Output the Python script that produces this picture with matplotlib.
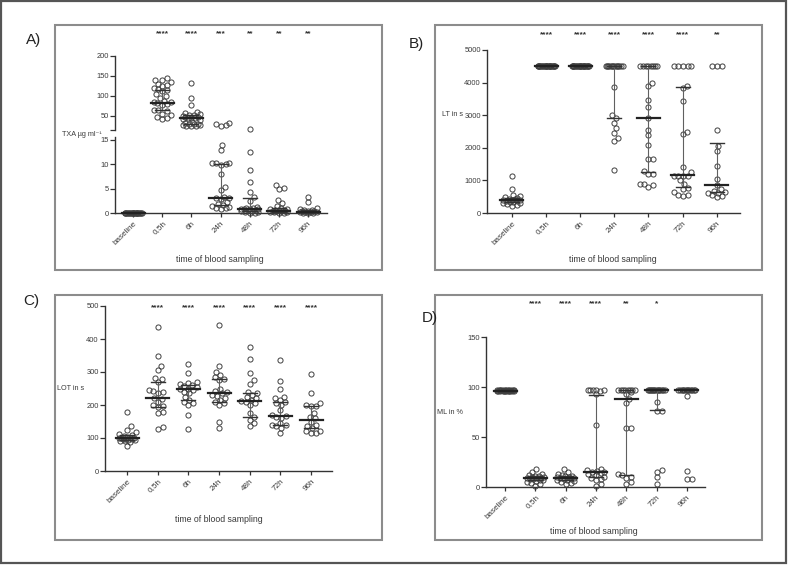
import numpy as np
import matplotlib.pyplot as plt
import matplotlib.transforms as mtransforms
from matplotlib.patches import Rectangle

plt.rcParams['font.family'] = ['Liberation Sans', 'DejaVu Sans']

#categories and significance marks
groups = ['baseline', '0,5h', '6h', '24h', '48h', '72h', '96h']
stars_a = ['', '****', '****', '***', '**', '**', '**']
stars_b = ['', '****', '****', '****', '****', '****', '**']
stars_c = ['', '****', '****', '****', '****', '****', '****']
stars_d = ['', '****', '****', '****', '**', '*', '']

#A) TXA in ug/ml
txa_base = [0] * 22
txa_05 = [145, 141, 139, 136, 131, 128, 125, 120, 118, 115, 112, 104, 100, 96,
          88, 85, 84, 82, 80, 78, 66, 64, 62, 56, 52, 48, 45, 43]
txa_6 = [132, 95, 77, 60, 57, 55, 53, 52, 50, 48, 47, 46, 45, 44, 43, 40, 36,
         33, 31, 30, 29, 28, 27, 26, 25, 24]
txa_24 = [33, 31, 28, 26, 14.0, 13.0, 10.3, 10.2, 10.2, 10.1, 9.8, 8.0, 5.4, 4.8,
          3.3, 3.1, 3.0, 2.8, 2.2, 1.9, 1.6, 1.4, 1.2, 1.1, 1.0, 0.9]
txa_48 = [17, 12.5, 8.8, 6.3, 4.3, 3.2, 2.5, 1.3, 1.1, 1.0, 0.9, 0.9, 0.8, 0.8,
          0.7, 0.6, 0.5, 0.4, 0.3, 0.2, 0.1, 0.0]
txa_72 = [5.8, 5.2, 4.9, 2.6, 2.0, 1.4, 1.0, 0.9, 0.8, 0.7, 0.6, 0.6, 0.5, 0.5,
          0.4, 0.4, 0.3, 0.3, 0.2, 0.1, 0.1]
txa_96 = [3.3, 2.2, 1.0, 0.8, 0.7, 0.6, 0.5, 0.4, 0.4, 0.3, 0.3, 0.2, 0.2, 0.1, 0.1, 0.0]
txa_med = [0, 83, 45, 3.0, 0.9, 0.5, 0.3]
txa_q1 = [0, 64, 31, 1.6, 0.5, 0.3, 0.1]
txa_q3 = [0, 116, 52, 10.0, 3.0, 1.0, 0.6]

#B) LT in s
lt_base = [1120, 750, 560, 520, 480, 450, 430, 420, 410, 400, 390, 380, 370, 350,
           340, 320, 300, 280, 250, 200]
lt_05 = [4500] * 24
lt_6 = [4500] * 24
lt_24 = [4500] * 14 + [3880, 3020, 2900, 2750, 2600, 2450, 2300, 2200, 1320]
lt_48 = [4500] * 8 + [4000, 3900, 3480, 3250, 2900, 2550, 2380, 2100, 1650, 1650,
                      1300, 1200, 1200, 900, 880, 850, 800]
lt_72 = [4500] * 5 + [3900, 3820, 3450, 2500, 2420, 1400, 1250, 1150, 1150, 1150,
                      1150, 1000, 900, 780, 750, 650, 550, 550, 520]
lt_96 = [4500] * 3 + [2550, 2050, 1900, 1450, 1050, 870, 750, 680, 650, 620, 600,
                      560, 530, 480]
lt_med = [400, 4500, 4500, 4500, 2900, 1160, 870]
lt_q1 = [350, 4500, 4500, 2920, 1250, 800, 640]
lt_q3 = [450, 4500, 4500, 4500, 4500, 3860, 2160]

#C) LOT in s
lot_base = [180, 135, 125, 118, 112, 108, 105, 103, 101, 100, 100, 99, 98, 97, 96,
            95, 93, 92, 90, 88, 75]
lot_05 = [435, 350, 318, 305, 283, 280, 270, 245, 243, 240, 235, 222, 218, 210, 200,
          197, 193, 180, 175, 133, 128]
lot_6 = [325, 298, 270, 268, 265, 262, 258, 255, 250, 248, 245, 240, 235, 225, 215,
         210, 205, 200, 170, 128]
lot_24 = [442, 318, 300, 290, 285, 280, 275, 250, 242, 238, 235, 230, 228, 220, 215,
          210, 205, 200, 150, 130]
lot_48 = [375, 340, 298, 275, 265, 240, 235, 230, 225, 220, 215, 213, 210, 205, 200,
          175, 165, 155, 145, 135]
lot_72 = [337, 272, 250, 225, 220, 215, 210, 205, 200, 185, 170, 168, 165, 160, 145,
          140, 138, 135, 130, 115]
lot_96 = [293, 235, 205, 200, 198, 197, 175, 165, 160, 150, 140, 135, 130, 120, 120,
          115, 115]
lot_med = [100, 220, 248, 235, 212, 167, 155]
lot_q1 = [95, 195, 215, 210, 165, 138, 130]
lot_q3 = [108, 270, 262, 280, 235, 210, 198]

#D) ML in %
ml_base = [97] * 12 + [96] * 12
ml_05 = [18, 15, 13, 12, 11, 11, 10, 10, 9, 9, 9, 8, 8, 7, 7, 6, 5, 4, 3, 1]
ml_6 = [18, 15, 13, 12, 11, 11, 10, 10, 9, 9, 8, 8, 7, 7, 6, 5, 4, 3]
ml_24 = [97, 97, 97, 97, 97, 96, 93, 62, 18, 17, 16, 15, 15, 14, 13, 12, 10, 9, 8,
         7, 3, 1]
ml_48 = [97] * 8 + [95, 93, 88, 84, 59, 59, 13, 12, 10, 9, 5, 3]
ml_72 = [97] * 15 + [85, 76, 76, 17, 15, 10, 3]
ml_96 = [97] * 13 + [91, 16, 8, 8]
ml_med = [96, 9, 9, 15, 88, 97, 97]
ml_q1 = [96, 7, 7, 10, 12, 77, 97]
ml_q3 = [97, 11, 11, 92, 97, 97, 97]

W, H = 788, 565
fig = plt.figure(figsize=(W / 100, H / 100), dpi=100)
TXT = '#3a3a3a'
TICK_FS = 5.4


def px_axes(x0, y0, x1, y1):
    # pixel box measured from the top left of the picture
    return fig.add_axes([x0 / W, 1 - y1 / H, (x1 - x0) / W, (y1 - y0) / H])


def frame(x0, y0, x1, y1, col='#8c8c8c', lw=1.5):
    fig.add_artist(Rectangle((x0 / W, 1 - y1 / H), (x1 - x0) / W, (y1 - y0) / H,
                             transform=fig.transFigure, fill=False, ec=col, lw=lw))


def style(ax, xlim, ylim, yticks, ylabels=None, bottom=True):
    ax.set_xlim(*xlim)
    ax.set_ylim(*ylim)
    ax.patch.set_alpha(0)
    for s in ['top', 'right']:
        ax.spines[s].set_visible(False)
    ax.spines['left'].set_color('#333333')
    ax.spines['left'].set_linewidth(1.0)
    ax.set_yticks(yticks)
    if ylabels is not None:
        ax.set_yticklabels(ylabels)
    ax.tick_params(axis='y', length=3.5, width=0.9, color='#333333', labelsize=TICK_FS,
                   labelcolor=TXT, pad=1)
    if bottom:
        ax.spines['bottom'].set_color('#333333')
        ax.spines['bottom'].set_linewidth(1.0)
        ax.set_xticks(range(len(groups)))
        ax.set_xticklabels(groups, rotation=45, ha='right', rotation_mode='anchor')
        ax.tick_params(axis='x', length=3, width=0.9, color='#333333', labelsize=5.9,
                       labelcolor=TXT, pad=2)
    else:
        ax.spines['bottom'].set_visible(False)
        ax.set_xticks([])


def swarm(ax, i, vals, d=5.0, maxw=8.5):
    # beeswarm layout done in display pixels, then mapped back to data
    vals = np.asarray(vals, float)
    pts = ax.transData.transform(np.column_stack([np.full(len(vals), i), vals]))
    yp = pts[:, 1]
    x0 = pts[0, 0]
    offs = np.zeros(len(vals))
    cands = [0.0]
    for k in range(1, int(maxw * 2) + 1):
        cands += [k * 0.5, -k * 0.5]
    cands = np.array(cands)
    grid = np.linspace(-maxw, maxw, 41)
    px, py = [], []
    for j in np.argsort(vals, kind='stable'):
        if px:
            ax_ = np.array(px)
            ay_ = np.array(py)
            dist = np.sqrt((cands[:, None] - ax_[None, :]) ** 2 + (yp[j] - ay_[None, :]) ** 2)
            ok = np.where(dist.min(axis=1) >= d)[0]
            if len(ok):
                c = cands[ok[0]]
            else:
                dg = np.sqrt((grid[:, None] - ax_[None, :]) ** 2 + (yp[j] - ay_[None, :]) ** 2)
                c = grid[np.argmax(dg.min(axis=1))]
        else:
            c = 0.0
        offs[j] = c
        px.append(c)
        py.append(yp[j])
    xd = ax.transData.inverted().transform(np.column_stack([x0 + offs, yp]))[:, 0]
    ax.plot(xd, vals, 'o', ms=3.7, mfc='none', mec='#404040', mew=0.7,
            clip_on=False, zorder=3)


def px_w(ax):
    p = ax.transData.transform([(0, 0), (1, 0)])
    return 1.0 / (p[1, 0] - p[0, 0])


def summary(ax, i, med, q1, q3, show_med=True):
    k = px_w(ax)
    ax.plot([i, i], [q1, q3], color='#606060', lw=0.8, zorder=4, clip_on=False)
    for q in (q1, q3):
        ax.plot([i - 7 * k, i + 7 * k], [q, q], color='#333333', lw=1.0, zorder=4,
                clip_on=False)
    if show_med:
        ax.plot([i - 11.5 * k, i + 11.5 * k], [med, med], color='#222222', lw=1.6,
                zorder=5, clip_on=False)


def stars(ax, marks, ypix):
    tr = mtransforms.blended_transform_factory(ax.transData, fig.transFigure)
    for i, s in enumerate(marks):
        if s:
            ax.text(i, 1 - ypix / H, s, transform=tr, ha='center', va='center',
                    fontsize=6, fontweight='bold', color='#333333')


def fig_text(x, y, s, **kw):
    fig.text(x / W, 1 - y / H, s, **kw)


#frames
frame(1, 1, 786, 563, col='#555555', lw=1.6)
frame(55, 25, 382, 270)
frame(435, 25, 762, 270)
frame(55, 295, 382, 540)
frame(435, 295, 762, 540)

#panel A with broken y axis
axA_up = px_axes(115, 56, 327, 130)
axA_lo = px_axes(115, 137, 327, 213)
xlimA = (-0.62, 6.65)
style(axA_up, xlimA, (15, 200), [15, 50, 100, 150, 200], ['', '50', '100', '150', '200'],
      bottom=False)
style(axA_lo, xlimA, (0, 15.6), [0, 5, 10, 15])
txa_all = [txa_base, txa_05, txa_6, txa_24, txa_48, txa_72, txa_96]
for i, v in enumerate(txa_all):
    v = np.array(v, float)
    if (v > 15).any():
        swarm(axA_up, i, v[v > 15])
    if (v <= 15).any():
        swarm(axA_lo, i, v[v <= 15])
for i in range(len(groups)):
    a = axA_up if txa_med[i] > 15 else axA_lo
    summary(a, i, txa_med[i], txa_q1[i], txa_q3[i], show_med=True)
stars(axA_lo, stars_a, 34)

#panel B
axB = px_axes(487, 50, 740, 213)
style(axB, (-0.73, 6.68), (0, 5000), [0, 1000, 2000, 3000, 4000, 5000])
lt_all = [lt_base, lt_05, lt_6, lt_24, lt_48, lt_72, lt_96]
for i, v in enumerate(lt_all):
    swarm(axB, i, v)
for i in range(len(groups)):
    summary(axB, i, lt_med[i], lt_q1[i], lt_q3[i], show_med=(i != 3))
stars(axB, stars_b, 35)

#panel C
axC = px_axes(105, 306, 332, 471)
style(axC, (-0.72, 6.68), (0, 500), [0, 100, 200, 300, 400, 500])
lot_all = [lot_base, lot_05, lot_6, lot_24, lot_48, lot_72, lot_96]
for i, v in enumerate(lot_all):
    swarm(axC, i, v)
for i in range(len(groups)):
    summary(axC, i, lot_med[i], lot_q1[i], lot_q3[i])
stars(axC, stars_c, 308)

#panel D
axD = px_axes(486, 337, 705, 487)
style(axD, (-0.63, 6.6), (0, 150), [0, 50, 100, 150])
ml_all = [ml_base, ml_05, ml_6, ml_24, ml_48, ml_72, ml_96]
for i, v in enumerate(ml_all):
    swarm(axD, i, v)
for i in range(len(groups)):
    summary(axD, i, ml_med[i], ml_q1[i], ml_q3[i])
stars(axD, stars_d, 304)

#labels
lab = dict(fontsize=5.2, color=TXT, va='center', ha='left')
fig_text(62, 134, 'TXA µg ml⁻¹', family=['Liberation Sans', 'DejaVu Sans'], **lab)
fig_text(442, 115, 'LT in s', **lab)
fig_text(57, 388, 'LOT in s', **lab)
fig_text(437, 413, 'ML in %', **lab)

xt = dict(fontsize=6.3, color=TXT, ha='center', va='center')
fig_text(220, 260, 'time of blood sampling', **xt)
fig_text(613, 260, 'time of blood sampling', **xt)
fig_text(219, 519, 'time of blood sampling', **xt)
fig_text(594, 532, 'time of blood sampling', **xt)

pl = dict(fontsize=11, color='#222222', ha='left', va='center')
fig_text(26, 40, 'A)', **pl)
fig_text(409, 44, 'B)', **pl)
fig_text(23, 301, 'C)', **pl)
fig_text(422, 318, 'D)', **pl)

plt.savefig('out.png', dpi=100)
